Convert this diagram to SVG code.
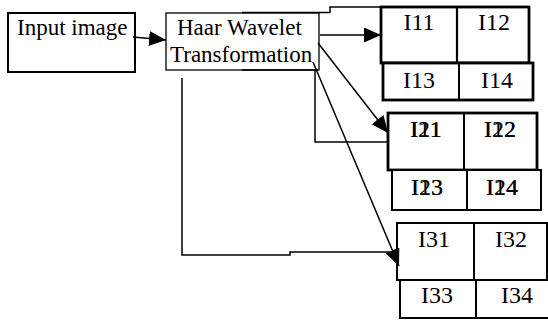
<svg xmlns="http://www.w3.org/2000/svg" width="548" height="320" viewBox="0 0 548 320">
<style>
text{font-family:"Liberation Serif","Times New Roman",serif;fill:#000}
.lbl{font-size:23px}
.cell{font-size:24px;text-anchor:middle}
.box{fill:#fff;stroke:#000}
.con{fill:none;stroke:#000;stroke-width:1.5}
</style>
<defs>
<marker id="ah" markerUnits="userSpaceOnUse" markerWidth="18" markerHeight="16" refX="17" refY="7.5" orient="auto">
<path d="M0,0 L17,7.5 L0,15 z" fill="#000"/>
</marker>
</defs>
<g id="input">
<rect class="box" x="8" y="13" width="127" height="59" stroke-width="2"/>
<text class="lbl" x="17" y="35">Input image</text>
</g>
<g id="haar">
<rect class="box" x="166" y="13" width="153" height="57" stroke-width="1.3"/>
<text class="lbl" x="177" y="35">Haar Wavelet</text>
<text class="lbl" x="170" y="62">Transformation</text>
</g>
<g id="i1">
<rect class="box" x="381" y="7" width="148" height="56" stroke-width="2.8"/>
<line x1="457" y1="7" x2="457" y2="63" stroke="#000" stroke-width="2.2"/>
<rect class="box" x="383" y="63" width="150" height="37" stroke-width="2.8"/>
<line x1="459" y1="63" x2="459" y2="100" stroke="#000" stroke-width="2"/>
<text class="cell" x="419" y="30">I11</text>
<text class="cell" x="494" y="30">I12</text>
<text class="cell" x="419" y="88">I13</text>
<text class="cell" x="497" y="88">I14</text>
</g>
<g id="i2">
<rect class="box" x="388" y="113" width="149" height="57" stroke-width="2.8"/>
<line x1="464" y1="113" x2="464" y2="170" stroke="#000" stroke-width="2"/>
<rect class="box" x="392" y="170" width="149" height="40" stroke-width="2"/>
<line x1="467" y1="170" x2="467" y2="210" stroke="#000" stroke-width="2"/>
<text class="cell" x="426" y="137">I11</text>
<text class="cell" x="426" y="137">I21</text>
<text class="cell" x="500" y="137">I12</text>
<text class="cell" x="500" y="137">I22</text>
<text class="cell" x="427" y="195">I13</text>
<text class="cell" x="427" y="195">I23</text>
<text class="cell" x="502" y="195">I14</text>
<text class="cell" x="502" y="195">I24</text>
</g>
<g id="i3">
<rect class="box" x="397" y="223" width="150" height="57" stroke-width="2"/>
<line x1="474" y1="223" x2="474" y2="280" stroke="#000" stroke-width="2"/>
<rect class="box" x="400" y="280" width="150" height="38" stroke-width="2"/>
<line x1="476" y1="280" x2="476" y2="318" stroke="#000" stroke-width="2"/>
<text class="cell" x="434" y="247">I31</text>
<text class="cell" x="511" y="247">I32</text>
<text class="cell" x="437" y="303">I33</text>
<text class="cell" x="517" y="303">I34</text>
</g>
<g id="connectors">
<line class="con" x1="133" y1="37" x2="166" y2="40" marker-end="url(#ah)"/>
<line class="con" x1="320" y1="35" x2="381" y2="35" marker-end="url(#ah)"/>
<polyline class="con" points="242,12.5 330,12.5 330,7 381,7"/>
<line class="con" x1="242" y1="70" x2="318" y2="70"/>
<polyline class="con" points="315,70 315,142 388,142"/>
<line class="con" x1="318" y1="43" x2="388" y2="133" marker-end="url(#ah)"/>
<line class="con" x1="313" y1="62" x2="399" y2="266" marker-end="url(#ah)"/>
<polyline class="con" points="182,78 182,255 290,255 290,252 397,252"/>
</g>
</svg>
